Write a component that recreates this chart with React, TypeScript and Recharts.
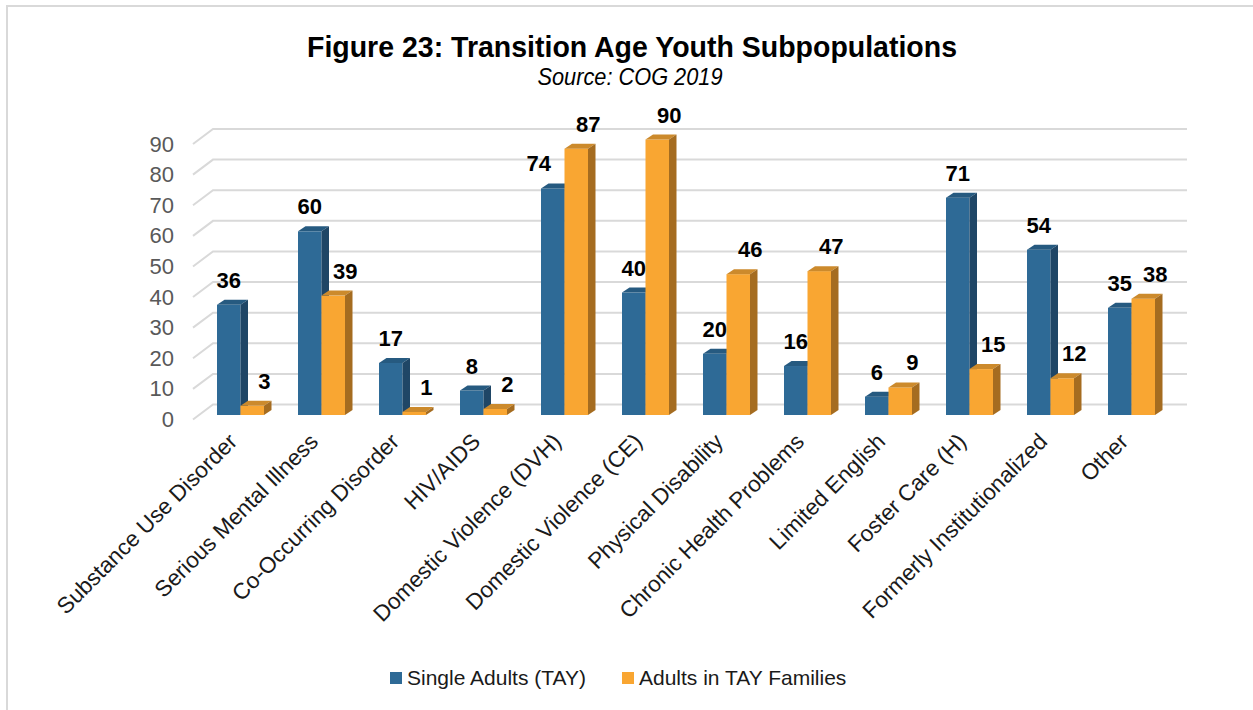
import React from "react";
import { BarChart, Bar, XAxis, YAxis, CartesianGrid, LabelList } from "recharts";

// ── Data ──────────────────────────────────────────────────────────────────────

const categories = [
  "Substance Use Disorder",
  "Serious Mental Illness",
  "Co-Occurring Disorder",
  "HIV/AIDS",
  "Domestic Violence (DVH)",
  "Domestic Violence (CE)",
  "Physical Disability",
  "Chronic Health Problems",
  "Limited English",
  "Foster Care (H)",
  "Formerly Institutionalized",
  "Other",
];

const singleAdults = [36, 60, 17, 8, 74, 40, 20, 16, 6, 71, 54, 35];
const tayFamilies = [3, 39, 1, 2, 87, 90, 46, 47, 9, 15, 12, 38];

const yTicks = [0, 10, 20, 30, 40, 50, 60, 70, 80, 90];

const TITLE = "Figure 23: Transition Age Youth Subpopulations";
const SUBTITLE = "Source: COG 2019";
const SERIES_SINGLE = "Single Adults (TAY)";
const SERIES_FAMILY = "Adults in TAY Families";

const data = categories.map((name, i) => ({
  name,
  single: singleAdults[i],
  family: tayFamilies[i],
}));

// ── Style ─────────────────────────────────────────────────────────────────────

const BLUE = { front: "#2E6A96", top: "#265A80", side: "#1F4666" };
const ORANGE = { front: "#F9A632", top: "#CC8A2C", side: "#A56C20" };

const DEPTH_X = 7.5;
const DEPTH_Y = 5;
const GRID = "#D9D9D9";
const FONT = "'Liberation Sans', Arial, sans-serif";

// Excel moved a single label off its neighbour
const SINGLE_LABEL_NUDGE: Record<string, number> = { "Domestic Violence (DVH)": -14 };

// ── 3D bar shape ──────────────────────────────────────────────────────────────

function make3DBar(c: { front: string; top: string; side: string }) {
  return (props: any) => {
    const { x, y, width, height } = props;
    if (height == null || width == null) return null;
    const r = x + width;
    const b = y + height;
    return (
      <g>
        <rect x={x} y={y} width={width} height={height} fill={c.front} />
        <path
          d={`M${x},${y} L${x + DEPTH_X},${y - DEPTH_Y} L${r + DEPTH_X},${y - DEPTH_Y} L${r},${y} Z`}
          fill={c.top}
        />
        <path
          d={`M${r},${y} L${r + DEPTH_X},${y - DEPTH_Y} L${r + DEPTH_X},${b - DEPTH_Y} L${r},${b} Z`}
          fill={c.side}
        />
      </g>
    );
  };
}

// back wall gridline + left floor diagonal
function GridLine(props: any) {
  const { x1, x2, y1 } = props;
  return (
    <g key={props.key}>
      <path
        d={`M${x1 - 7},${y1 + 4.5} L${x1 + 13},${y1 - 10.5} L${x2 + 15},${y1 - 10.5}`}
        fill="none"
        stroke={GRID}
        strokeWidth={2}
      />
    </g>
  );
}

function YTick(props: any) {
  const { y, payload } = props;
  return (
    <text
      x={174}
      y={y + 4.5}
      textAnchor="end"
      dominantBaseline="central"
      fontFamily={FONT}
      fontSize={22}
      fill="#595959"
    >
      {payload.value}
    </text>
  );
}

function XTick(props: any) {
  const { x, y, payload } = props;
  return (
    <text
      transform={`translate(${x - 2},${y + 20}) rotate(-45)`}
      textAnchor="end"
      fontFamily={FONT}
      fontSize={22.5}
      fill="#1a1a1a"
    >
      {payload.value}
    </text>
  );
}

function makeLabel(shift: number, useNudge: boolean) {
  return (props: any) => {
    const { x, y, width, value, index } = props;
    const nudge = useNudge ? SINGLE_LABEL_NUDGE[categories[index]] ?? 0 : 0;
    return (
      <text
        x={x + width / 2 + shift + nudge}
        y={y - 17}
        textAnchor="middle"
        fontFamily={FONT}
        fontWeight="bold"
        fontSize={22}
        fill="#000"
      >
        {value}
      </text>
    );
  };
}

// ── Legend ────────────────────────────────────────────────────────────────────

function LegendItem({ color, label }: { color: string; label: string }) {
  return (
    <div style={{ display: "flex", alignItems: "center" }}>
      <div style={{ width: 12, height: 12, background: color, marginRight: 5 }} />
      <span style={{ fontFamily: FONT, fontSize: 21, color: "#1a1a1a" }}>{label}</span>
    </div>
  );
}

// ── Main ──────────────────────────────────────────────────────────────────────

export default function App() {
  return (
    <div style={{ position: "absolute", left: 0, top: 0, width: 1253, height: 710, background: "#fff" }}>
      <div
        style={{
          position: "absolute",
          left: 6,
          top: 5,
          right: 0,
          bottom: 0,
          borderTop: `2px solid ${GRID}`,
          borderLeft: `2px solid ${GRID}`,
        }}
      />
      <svg width={1253} height={100} style={{ position: "absolute", left: 0, top: 0 }}>
        <text
          x={632}
          y={57}
          textAnchor="middle"
          fontFamily={FONT}
          fontWeight="bold"
          fontSize={30}
          textLength={650}
          lengthAdjust="spacingAndGlyphs"
          fill="#000"
        >
          {TITLE}
        </text>
        <text
          x={630}
          y={85}
          textAnchor="middle"
          fontFamily={FONT}
          fontStyle="italic"
          fontSize={24}
          textLength={185}
          lengthAdjust="spacingAndGlyphs"
          fill="#000"
        >
          {SUBTITLE}
        </text>
      </svg>

      <div style={{ position: "absolute", left: 0, top: 0 }}>
        <BarChart
          width={1253}
          height={710}
          data={data}
          margin={{ top: 139.5, right: 81, left: 160, bottom: 265 }}
          barGap={0}
          barCategoryGap={17}
        >
          <CartesianGrid vertical={false} horizontal={(p: any) => <GridLine {...p} />} />
          <XAxis
            dataKey="name"
            interval={0}
            axisLine={false}
            tickLine={false}
            height={30}
            tick={<XTick />}
          />
          <YAxis
            domain={[0, 90]}
            ticks={yTicks}
            width={40}
            axisLine={false}
            tickLine={false}
            tick={<YTick />}
          />
          <Bar dataKey="single" name={SERIES_SINGLE} barSize={23.5} shape={make3DBar(BLUE)} isAnimationActive={false}>
            <LabelList dataKey="single" content={makeLabel(0, true)} />
          </Bar>
          <Bar dataKey="family" name={SERIES_FAMILY} barSize={23.5} shape={make3DBar(ORANGE)} isAnimationActive={false}>
            <LabelList dataKey="family" content={makeLabel(12, false)} />
          </Bar>
        </BarChart>
      </div>

      <div
        style={{
          position: "absolute",
          left: 390,
          top: 666,
          display: "flex",
          gap: 36,
        }}
      >
        <LegendItem color={BLUE.front} label={SERIES_SINGLE} />
        <LegendItem color={ORANGE.front} label={SERIES_FAMILY} />
      </div>
    </div>
  );
}
